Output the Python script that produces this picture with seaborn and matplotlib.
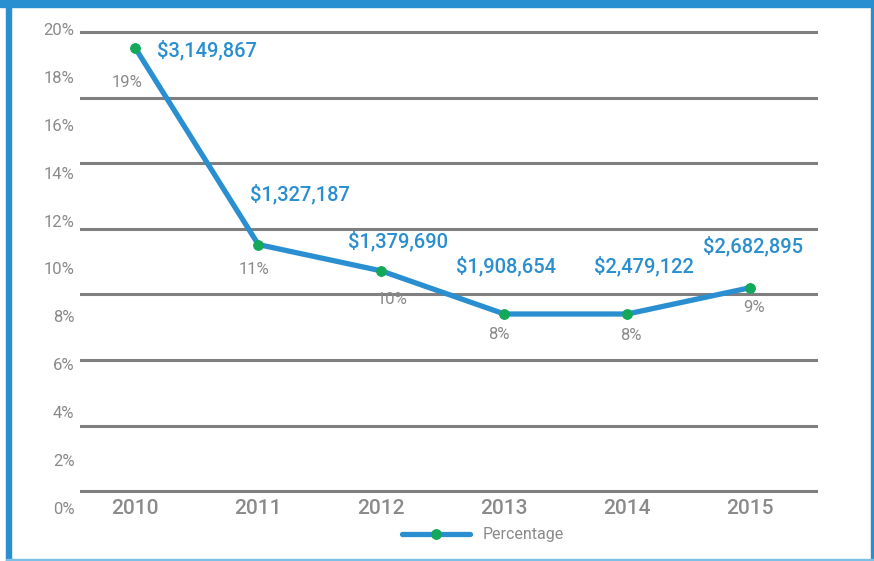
import matplotlib
matplotlib.use('Agg')
import matplotlib.pyplot as plt
import numpy as np
import pandas as pd
import seaborn as sns
from matplotlib.patches import Rectangle

# Chart data
years = ['2010', '2011', '2012', '2013', '2014', '2015']
percentages = [19.2, 11.0, 9.9, 8.1, 8.1, 9.2]
pct_labels = ['19%', '11%', '10%', '8%', '8%', '9%']
amounts = ['$3,149,867', '$1,327,187', '$1,379,690', '$1,908,654', '$2,479,122', '$2,682,895']
y_ticks = [0, 2, 4, 6, 8, 10, 12, 14, 16, 18, 20]

# label offsets in pixels (dx, dy), screen coords
amount_offsets = [(72, -2), (42, 50), (17, 30), (2, 48), (17, 48), (3, 42)]
pct_offsets = [(-8, -34), (-4, -25), (11, -29), (-5, -20), (4, -21), (4, -20)]

BLUE = '#2a8fd0'
GREEN = '#14a85a'
GRAY = '#8a8a8c'
GRID = '#7f7f82'

sns.set_style('white')
plt.rcParams['font.family'] = ['Roboto', 'DejaVu Sans']

df = pd.DataFrame({'x': np.arange(len(years)), 'pct': percentages})

fig = plt.figure(figsize=(8.74, 5.61), dpi=100)
ax = fig.add_axes([80 / 874, 1 - 508 / 561, (818 - 80) / 874, (508 - 29) / 561])

# decorative grid lines (8 lines, not on the tick values)
for gy in np.linspace(0.7, 19.87, 8):
    ax.axhline(gy, color=GRID, lw=2.2, zorder=1)

sns.lineplot(data=df, x='x', y='pct', ax=ax, color=BLUE, lw=3.8,
             marker='o', markersize=7, markerfacecolor=GREEN,
             markeredgecolor=GREEN, label='Percentage', zorder=3)

ax.set_xlim(-0.45, 5.55)
ax.set_ylim(0, 20)
ax.set_xticks(range(len(years)))
ax.set_xticklabels(years, fontsize=15, color=GRAY, fontweight='medium', va='center')
ax.set_yticks(y_ticks)
ax.set_yticklabels([f'{t}%' for t in y_ticks], fontsize=12, color=GRAY)
ax.tick_params(axis='x', length=0, pad=0)
ax.tick_params(axis='y', length=0, pad=4)
ax.set_xlabel('')
ax.set_ylabel('')
for s in ax.spines.values():
    s.set_visible(False)
ax.patch.set_alpha(0)

pt = 72 / 100
for i in range(len(years)):
    dx, dy = amount_offsets[i]
    ax.annotate(amounts[i], (i, percentages[i]), xytext=(dx * pt, dy * pt),
                textcoords='offset points', ha='center', va='center',
                fontsize=14.5, color=BLUE, fontweight='medium', zorder=4)
    dx, dy = pct_offsets[i]
    ax.annotate(pct_labels[i], (i, percentages[i]), xytext=(dx * pt, dy * pt),
                textcoords='offset points', ha='center', va='center',
                fontsize=12, color=GRAY, zorder=4)

ax.get_legend().remove()
leg = fig.legend(loc='center', bbox_to_anchor=(483 / 874, 1 - 535 / 561),
                 frameon=False, handlelength=4.2, fontsize=11.5)
for t in leg.get_texts():
    t.set_color(GRAY)

# blue frame around the card
fig.patches.append(Rectangle((0, 1 - 7 / 561), 1, 7 / 561, transform=fig.transFigure,
                             color=BLUE, zorder=0))
fig.patches.append(Rectangle((6 / 874, 0), 5 / 874, 1, transform=fig.transFigure,
                             color=BLUE, zorder=0))
fig.patches.append(Rectangle((871 / 874, 0), 3 / 874, 1, transform=fig.transFigure,
                             color=BLUE, zorder=0))
fig.patches.append(Rectangle((6 / 874, 0), 868 / 874, 2 / 561, transform=fig.transFigure,
                             color='#7cc0e8', zorder=0))

fig.savefig('out.png', dpi=100)
